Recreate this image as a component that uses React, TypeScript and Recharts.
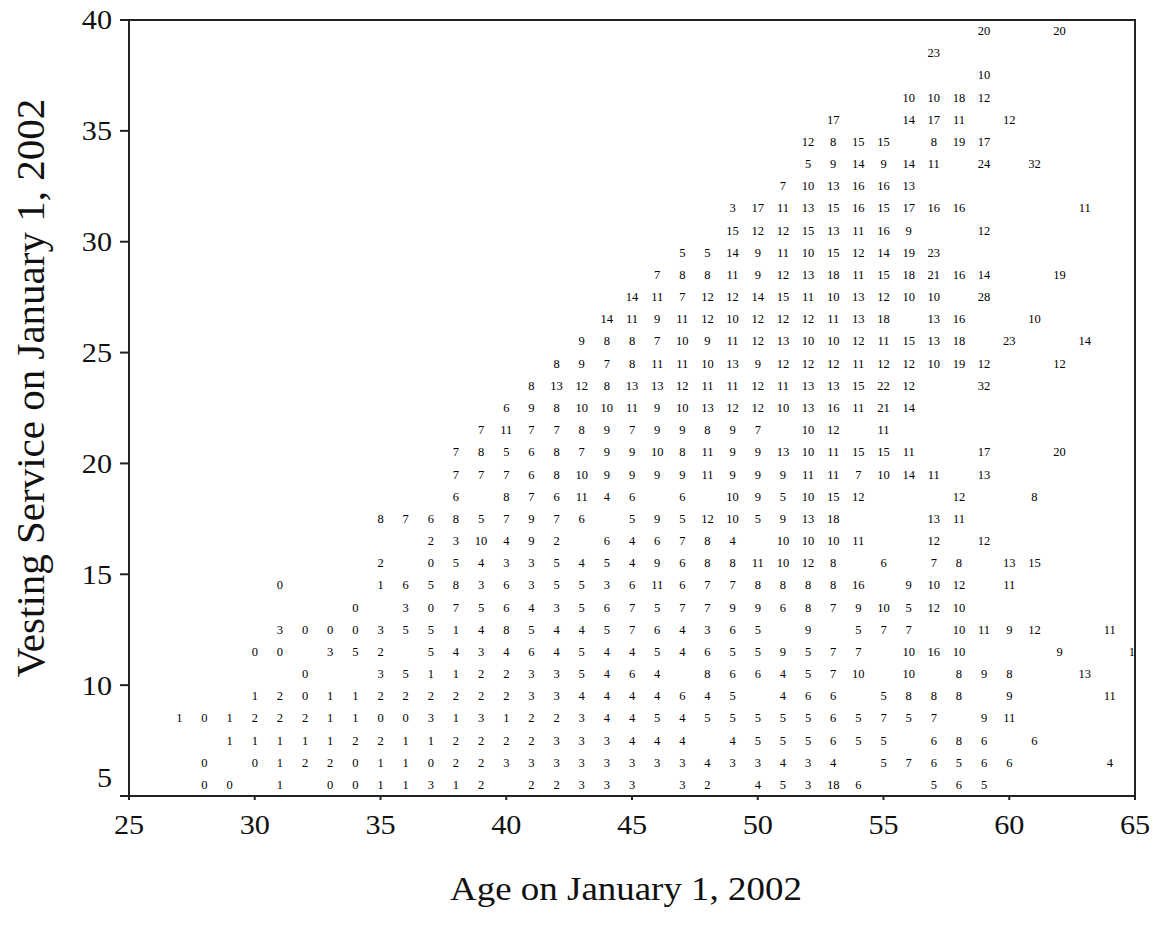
import React from 'react';
import { ScatterChart, Scatter, XAxis, YAxis, ReferenceArea } from 'recharts';

// Each row: vesting service (years) -> [age, number of participants]
const svc5 = [[28, 0], [29, 0], [31, 1], [33, 0], [34, 0], [35, 1], [36, 1], [37, 3], [38, 1], [39, 2], [41, 2], [42, 2], [43, 3], [44, 3], [45, 3], [47, 3], [48, 2], [50, 4], [51, 5], [52, 3], [53, 18], [54, 6], [57, 5], [58, 6], [59, 5]];
const svc6 = [[28, 0], [30, 0], [31, 1], [32, 2], [33, 2], [34, 0], [35, 1], [36, 1], [37, 0], [38, 2], [39, 2], [40, 3], [41, 3], [42, 3], [43, 3], [44, 3], [45, 3], [46, 3], [47, 3], [48, 4], [49, 3], [50, 3], [51, 4], [52, 3], [53, 4], [55, 5], [56, 7], [57, 6], [58, 5], [59, 6], [60, 6], [64, 4]];
const svc7 = [[29, 1], [30, 1], [31, 1], [32, 1], [33, 1], [34, 2], [35, 2], [36, 1], [37, 1], [38, 2], [39, 2], [40, 2], [41, 2], [42, 3], [43, 3], [44, 3], [45, 4], [46, 4], [47, 4], [49, 4], [50, 5], [51, 5], [52, 5], [53, 6], [54, 5], [55, 5], [57, 6], [58, 8], [59, 6], [61, 6]];
const svc8 = [[27, 1], [28, 0], [29, 1], [30, 2], [31, 2], [32, 2], [33, 1], [34, 1], [35, 0], [36, 0], [37, 3], [38, 1], [39, 3], [40, 1], [41, 2], [42, 2], [43, 3], [44, 4], [45, 4], [46, 5], [47, 4], [48, 5], [49, 5], [50, 5], [51, 5], [52, 5], [53, 6], [54, 5], [55, 7], [56, 5], [57, 7], [59, 9], [60, 11]];
const svc9 = [[30, 1], [31, 2], [32, 0], [33, 1], [34, 1], [35, 2], [36, 2], [37, 2], [38, 2], [39, 2], [40, 2], [41, 3], [42, 3], [43, 4], [44, 4], [45, 4], [46, 4], [47, 6], [48, 4], [49, 5], [51, 4], [52, 6], [53, 6], [55, 5], [56, 8], [57, 8], [58, 8], [60, 9], [64, 11]];
const svc10 = [[32, 0], [35, 3], [36, 5], [37, 1], [38, 1], [39, 2], [40, 2], [41, 3], [42, 3], [43, 5], [44, 4], [45, 6], [46, 4], [48, 8], [49, 6], [50, 6], [51, 4], [52, 5], [53, 7], [54, 10], [56, 10], [58, 8], [59, 9], [60, 8], [63, 13]];
const svc11 = [[30, 0], [31, 0], [33, 3], [34, 5], [35, 2], [37, 5], [38, 4], [39, 3], [40, 4], [41, 6], [42, 4], [43, 5], [44, 4], [45, 4], [46, 5], [47, 4], [48, 6], [49, 5], [50, 5], [51, 9], [52, 5], [53, 7], [54, 7], [56, 10], [57, 16], [58, 10], [62, 9], [65, 13]];
const svc12 = [[31, 3], [32, 0], [33, 0], [34, 0], [35, 3], [36, 5], [37, 5], [38, 1], [39, 4], [40, 8], [41, 5], [42, 4], [43, 4], [44, 5], [45, 7], [46, 6], [47, 4], [48, 3], [49, 6], [50, 5], [52, 9], [54, 5], [55, 7], [56, 7], [58, 10], [59, 11], [60, 9], [61, 12], [64, 11]];
const svc13 = [[34, 0], [36, 3], [37, 0], [38, 7], [39, 5], [40, 6], [41, 4], [42, 3], [43, 5], [44, 6], [45, 7], [46, 5], [47, 7], [48, 7], [49, 9], [50, 9], [51, 6], [52, 8], [53, 7], [54, 9], [55, 10], [56, 5], [57, 12], [58, 10]];
const svc14 = [[31, 0], [35, 1], [36, 6], [37, 5], [38, 8], [39, 3], [40, 6], [41, 3], [42, 5], [43, 5], [44, 3], [45, 6], [46, 11], [47, 6], [48, 7], [49, 7], [50, 8], [51, 8], [52, 8], [53, 8], [54, 16], [56, 9], [57, 10], [58, 12], [60, 11]];
const svc15 = [[35, 2], [37, 0], [38, 5], [39, 4], [40, 3], [41, 3], [42, 5], [43, 4], [44, 5], [45, 4], [46, 9], [47, 6], [48, 8], [49, 8], [50, 11], [51, 10], [52, 12], [53, 8], [55, 6], [57, 7], [58, 8], [60, 13], [61, 15]];
const svc16 = [[37, 2], [38, 3], [39, 10], [40, 4], [41, 9], [42, 2], [44, 6], [45, 4], [46, 6], [47, 7], [48, 8], [49, 4], [51, 10], [52, 10], [53, 10], [54, 11], [57, 12], [59, 12]];
const svc17 = [[35, 8], [36, 7], [37, 6], [38, 8], [39, 5], [40, 7], [41, 9], [42, 7], [43, 6], [45, 5], [46, 9], [47, 5], [48, 12], [49, 10], [50, 5], [51, 9], [52, 13], [53, 18], [57, 13], [58, 11]];
const svc18 = [[38, 6], [40, 8], [41, 7], [42, 6], [43, 11], [44, 4], [45, 6], [47, 6], [49, 10], [50, 9], [51, 5], [52, 10], [53, 15], [54, 12], [58, 12], [61, 8]];
const svc19 = [[38, 7], [39, 7], [40, 7], [41, 6], [42, 8], [43, 10], [44, 9], [45, 9], [46, 9], [47, 9], [48, 11], [49, 9], [50, 9], [51, 9], [52, 11], [53, 11], [54, 7], [55, 10], [56, 14], [57, 11], [59, 13]];
const svc20 = [[38, 7], [39, 8], [40, 5], [41, 6], [42, 8], [43, 7], [44, 9], [45, 9], [46, 10], [47, 8], [48, 11], [49, 9], [50, 9], [51, 13], [52, 10], [53, 11], [54, 15], [55, 15], [56, 11], [59, 17], [62, 20]];
const svc21 = [[39, 7], [40, 11], [41, 7], [42, 7], [43, 8], [44, 9], [45, 7], [46, 9], [47, 9], [48, 8], [49, 9], [50, 7], [52, 10], [53, 12], [55, 11]];
const svc22 = [[40, 6], [41, 9], [42, 8], [43, 10], [44, 10], [45, 11], [46, 9], [47, 10], [48, 13], [49, 12], [50, 12], [51, 10], [52, 13], [53, 16], [54, 11], [55, 21], [56, 14]];
const svc23 = [[41, 8], [42, 13], [43, 12], [44, 8], [45, 13], [46, 13], [47, 12], [48, 11], [49, 11], [50, 12], [51, 11], [52, 13], [53, 13], [54, 15], [55, 22], [56, 12], [59, 32]];
const svc24 = [[42, 8], [43, 9], [44, 7], [45, 8], [46, 11], [47, 11], [48, 10], [49, 13], [50, 9], [51, 12], [52, 12], [53, 12], [54, 11], [55, 12], [56, 12], [57, 10], [58, 19], [59, 12], [62, 12]];
const svc25 = [[43, 9], [44, 8], [45, 8], [46, 7], [47, 10], [48, 9], [49, 11], [50, 12], [51, 13], [52, 10], [53, 10], [54, 12], [55, 11], [56, 15], [57, 13], [58, 18], [60, 23], [63, 14]];
const svc26 = [[44, 14], [45, 11], [46, 9], [47, 11], [48, 12], [49, 10], [50, 12], [51, 12], [52, 12], [53, 11], [54, 13], [55, 18], [57, 13], [58, 16], [61, 10]];
const svc27 = [[45, 14], [46, 11], [47, 7], [48, 12], [49, 12], [50, 14], [51, 15], [52, 11], [53, 10], [54, 13], [55, 12], [56, 10], [57, 10], [59, 28]];
const svc28 = [[46, 7], [47, 8], [48, 8], [49, 11], [50, 9], [51, 12], [52, 13], [53, 18], [54, 11], [55, 15], [56, 18], [57, 21], [58, 16], [59, 14], [62, 19]];
const svc29 = [[47, 5], [48, 5], [49, 14], [50, 9], [51, 11], [52, 10], [53, 15], [54, 12], [55, 14], [56, 19], [57, 23]];
const svc30 = [[49, 15], [50, 12], [51, 12], [52, 15], [53, 13], [54, 11], [55, 16], [56, 9], [59, 12]];
const svc31 = [[49, 3], [50, 17], [51, 11], [52, 13], [53, 15], [54, 16], [55, 15], [56, 17], [57, 16], [58, 16], [63, 11]];
const svc32 = [[51, 7], [52, 10], [53, 13], [54, 16], [55, 16], [56, 13]];
const svc33 = [[52, 5], [53, 9], [54, 14], [55, 9], [56, 14], [57, 11], [59, 24], [61, 32]];
const svc34 = [[52, 12], [53, 8], [54, 15], [55, 15], [57, 8], [58, 19], [59, 17]];
const svc35 = [[53, 17], [56, 14], [57, 17], [58, 11], [60, 12]];
const svc36 = [[56, 10], [57, 10], [58, 18], [59, 12]];
const svc37 = [[59, 10]];
const svc38 = [[57, 23]];
const svc39 = [[59, 20], [62, 20]];

const serviceRows: [number, number[][]][] = [
  [5, svc5], [6, svc6], [7, svc7], [8, svc8], [9, svc9], [10, svc10], [11, svc11],
  [12, svc12], [13, svc13], [14, svc14], [15, svc15], [16, svc16], [17, svc17],
  [18, svc18], [19, svc19], [20, svc20], [21, svc21], [22, svc22], [23, svc23],
  [24, svc24], [25, svc25], [26, svc26], [27, svc27], [28, svc28], [29, svc29],
  [30, svc30], [31, svc31], [32, svc32], [33, svc33], [34, svc34], [35, svc35],
  [36, svc36], [37, svc37], [38, svc38], [39, svc39],
];

const ageTicks = [25, 30, 35, 40, 45, 50, 55, 60, 65];
const serviceTicks = [5, 10, 15, 20, 25, 30, 35, 40];

// each count sits in the middle of its one-year service band
const points = serviceRows.flatMap(([svc, row]) =>
  row.map(([age, count]) => ({ age, service: svc + 0.5, count })),
);

const FONT = '"Liberation Serif", "Times New Roman", serif';
const INK = '#111';

const CountLabel = (props: any) => (
  <text
    x={props.cx}
    y={props.cy}
    textAnchor="middle"
    dominantBaseline="central"
    fontSize={12.5}
    fontFamily={FONT}
    fill="#000"
  >
    {props.payload.count}
  </text>
);

const AgeTick = ({ x, y, payload }: any) => (
  <text
    transform={`translate(${x},${y}) scale(1.12,1)`}
    textAnchor="middle"
    dy="0.72em"
    fontSize={27}
    fontFamily={FONT}
    fill={INK}
  >
    {payload.value}
  </text>
);

const ServiceTick = ({ x, y, payload }: any) => (
  // the bottom label is lifted so it clears the age axis
  <text
    transform={`translate(${x},${payload.value === 5 ? y - 18 : y}) scale(1.12,1)`}
    textAnchor="end"
    dominantBaseline="central"
    fontSize={27}
    fontFamily={FONT}
    fill={INK}
  >
    {payload.value}
  </text>
);

const YTitle = ({ viewBox }: any) => {
  const cx = viewBox.x + 30;
  const cy = viewBox.y + viewBox.height / 2 - 20;
  return (
    <text
      transform={`translate(${cx},${cy}) rotate(-90)`}
      textAnchor="middle"
      dominantBaseline="central"
      fontSize={41}
      fontFamily={FONT}
      fill={INK}
    >
      Vesting Service on January 1, 2002
    </text>
  );
};

const XTitle = ({ viewBox }: any) => {
  const cx = viewBox.x + viewBox.width / 2 - 6;
  const cy = viewBox.y + 93;
  return (
    <text
      transform={`translate(${cx},${cy}) scale(1.12,1)`}
      textAnchor="middle"
      dominantBaseline="central"
      fontSize={33}
      fontFamily={FONT}
      fill={INK}
    >
      Age on January 1, 2002
    </text>
  );
};

export default function App() {
  return (
    <div style={{ position: 'absolute', left: 0, top: 0, background: '#fff' }}>
      <ScatterChart width={1154} height={939} margin={{ top: 20, right: 19, bottom: 0, left: 0 }}>
        <XAxis
          dataKey="age"
          type="number"
          domain={[25, 65]}
          ticks={ageTicks}
          allowDataOverflow
          height={143}
          tickSize={4}
          tickMargin={15}
          tick={<AgeTick />}
          axisLine={{ stroke: '#222', strokeWidth: 2 }}
          tickLine={{ stroke: '#222', strokeWidth: 2 }}
          label={{ content: XTitle } as any}
        />
        <YAxis
          dataKey="service"
          type="number"
          domain={[5, 40]}
          ticks={serviceTicks}
          allowDataOverflow
          width={129}
          tickSize={9}
          tickMargin={8}
          tick={<ServiceTick />}
          axisLine={{ stroke: '#222', strokeWidth: 2 }}
          tickLine={{ stroke: '#222', strokeWidth: 2 }}
          label={{ content: YTitle } as any}
        />
        <ReferenceArea x1={25} x2={65} y1={5} y2={40} fill="none" stroke="#222" strokeWidth={2} />
        <Scatter data={points} shape={CountLabel} isAnimationActive={false} />
      </ScatterChart>
    </div>
  );
}
